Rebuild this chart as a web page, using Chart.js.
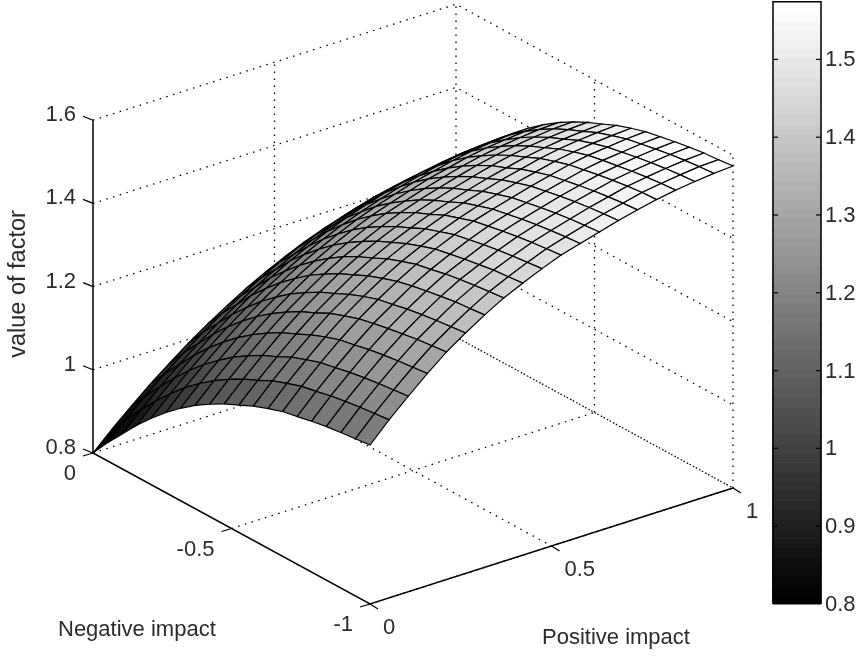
<!DOCTYPE html>
<html>
<head>
<meta charset="utf-8">
<title>value of factor</title>
<style>
  html, body { margin: 0; padding: 0; background: #fff; }
  canvas { display: block; }
</style>
<script src="https://cdn.jsdelivr.net/npm/chart.js@4"></script>
</head>
<body>
<canvas id="chart" width="856" height="656"></canvas>
<script>
// grid of the surface
const negativeImpact = [0, -0.0526, -0.1053, -0.1579, -0.2105, -0.2632, -0.3158, -0.3684, -0.4211, -0.4737, -0.5263, -0.5789, -0.6316, -0.6842, -0.7368, -0.7895, -0.8421, -0.8947, -0.9474, -1];
const positiveImpact = [0, 0.0526, 0.1053, 0.1579, 0.2105, 0.2632, 0.3158, 0.3684, 0.4211, 0.4737, 0.5263, 0.5789, 0.6316, 0.6842, 0.7368, 0.7895, 0.8421, 0.8947, 0.9474, 1];

// one row per negativeImpact value, one column per positiveImpact value
const factorValues = [
  [0.800, 0.843, 0.883, 0.922, 0.957, 0.991, 1.022, 1.051, 1.078, 1.102, 1.124, 1.144, 1.161, 1.176, 1.189, 1.199, 1.208, 1.213, 1.217, 1.218],
  [0.844, 0.887, 0.928, 0.966, 1.002, 1.036, 1.067, 1.095, 1.121, 1.145, 1.167, 1.185, 1.202, 1.217, 1.230, 1.240, 1.248, 1.254, 1.258, 1.259],
  [0.884, 0.928, 0.969, 1.007, 1.043, 1.076, 1.107, 1.135, 1.161, 1.184, 1.205, 1.223, 1.240, 1.254, 1.266, 1.277, 1.285, 1.291, 1.294, 1.296],
  [0.924, 0.968, 1.009, 1.048, 1.084, 1.117, 1.148, 1.176, 1.201, 1.223, 1.244, 1.262, 1.278, 1.292, 1.304, 1.314, 1.322, 1.328, 1.332, 1.334],
  [0.960, 1.004, 1.046, 1.085, 1.121, 1.153, 1.184, 1.211, 1.236, 1.258, 1.278, 1.295, 1.311, 1.325, 1.337, 1.347, 1.355, 1.361, 1.365, 1.367],
  [0.993, 1.038, 1.079, 1.118, 1.154, 1.187, 1.217, 1.244, 1.268, 1.290, 1.310, 1.327, 1.342, 1.356, 1.367, 1.378, 1.386, 1.392, 1.396, 1.398],
  [1.022, 1.067, 1.108, 1.148, 1.184, 1.216, 1.246, 1.273, 1.297, 1.319, 1.338, 1.354, 1.369, 1.383, 1.394, 1.405, 1.413, 1.418, 1.423, 1.425],
  [1.048, 1.093, 1.135, 1.174, 1.210, 1.243, 1.273, 1.299, 1.322, 1.344, 1.363, 1.378, 1.393, 1.406, 1.418, 1.428, 1.436, 1.442, 1.447, 1.449],
  [1.070, 1.115, 1.157, 1.197, 1.233, 1.265, 1.295, 1.322, 1.344, 1.365, 1.384, 1.400, 1.414, 1.427, 1.439, 1.449, 1.457, 1.463, 1.468, 1.470],
  [1.090, 1.135, 1.177, 1.217, 1.253, 1.285, 1.315, 1.341, 1.364, 1.384, 1.403, 1.418, 1.432, 1.445, 1.457, 1.467, 1.475, 1.481, 1.485, 1.488],
  [1.106, 1.151, 1.193, 1.233, 1.269, 1.301, 1.331, 1.357, 1.380, 1.400, 1.418, 1.433, 1.447, 1.460, 1.471, 1.482, 1.490, 1.496, 1.500, 1.503],
  [1.123, 1.169, 1.211, 1.250, 1.287, 1.318, 1.348, 1.374, 1.396, 1.417, 1.435, 1.450, 1.463, 1.476, 1.487, 1.498, 1.506, 1.512, 1.516, 1.519],
  [1.136, 1.182, 1.224, 1.264, 1.300, 1.332, 1.361, 1.387, 1.409, 1.429, 1.447, 1.462, 1.475, 1.488, 1.499, 1.510, 1.518, 1.524, 1.528, 1.531],
  [1.148, 1.194, 1.236, 1.276, 1.312, 1.344, 1.373, 1.399, 1.421, 1.441, 1.459, 1.473, 1.486, 1.499, 1.510, 1.521, 1.529, 1.534, 1.539, 1.542],
  [1.155, 1.201, 1.243, 1.283, 1.320, 1.351, 1.381, 1.406, 1.428, 1.448, 1.466, 1.480, 1.493, 1.506, 1.517, 1.528, 1.536, 1.541, 1.546, 1.549],
  [1.163, 1.209, 1.251, 1.291, 1.327, 1.359, 1.388, 1.414, 1.435, 1.455, 1.473, 1.487, 1.500, 1.513, 1.524, 1.535, 1.542, 1.548, 1.553, 1.556],
  [1.169, 1.215, 1.257, 1.297, 1.333, 1.365, 1.394, 1.420, 1.441, 1.461, 1.479, 1.493, 1.506, 1.519, 1.530, 1.541, 1.548, 1.554, 1.559, 1.562],
  [1.174, 1.220, 1.262, 1.302, 1.339, 1.370, 1.400, 1.425, 1.447, 1.466, 1.484, 1.498, 1.511, 1.524, 1.535, 1.546, 1.553, 1.559, 1.564, 1.567],
  [1.178, 1.224, 1.266, 1.306, 1.343, 1.374, 1.403, 1.429, 1.450, 1.470, 1.488, 1.502, 1.515, 1.528, 1.539, 1.550, 1.557, 1.563, 1.568, 1.570],
  [1.182, 1.228, 1.270, 1.310, 1.347, 1.378, 1.407, 1.433, 1.454, 1.474, 1.492, 1.505, 1.518, 1.531, 1.542, 1.552, 1.560, 1.566, 1.571, 1.574],
];

const factorTicks = [0.8, 1, 1.2, 1.4, 1.6];
const factorTickLabels = ["0.8", "1", "1.2", "1.4", "1.6"];
const negativeTicks = [0, -0.5, -1];
const negativeTickLabels = ["0", "-0.5", "-1"];
const positiveTicks = [0, 0.5, 1];
const positiveTickLabels = ["0", "0.5", "1"];
const colorbarTicks = [0.8, 0.9, 1, 1.1, 1.2, 1.3, 1.4, 1.5];
const colorbarTickLabels = ["0.8", "0.9", "1", "1.1", "1.2", "1.3", "1.4", "1.5"];
const colorMin = 0.8;
const colorMax = 1.574;
const colorLevels = 64;

// 3d box to canvas pixels, the x and y scales below run in pixels
function project(neg, pos, z) {
  return {
    x: 93 - 277 * neg + 363 * pos,
    y: 453 - 151 * neg - 116 * pos - 416 * (z - 0.8),
  };
}

function colorbarY(v) {
  return 604 - 778 * (v - colorMin);
}

function grayFor(v) {
  const t = Math.min(1, Math.max(0, (v - colorMin) / (colorMax - colorMin)));
  const level = Math.min(colorLevels - 1, Math.floor(t * colorLevels));
  const g = Math.round((level / (colorLevels - 1)) * 255);
  return `rgb(${g},${g},${g})`;
}

function lineSet(points, width, dash) {
  return {
    data: points,
    borderColor: "#000",
    borderWidth: width,
    borderDash: dash || [],
    fill: false,
    pointRadius: 0,
    tension: 0,
  };
}

function quadSet(points, color, edge, width) {
  return {
    data: points,
    borderColor: edge,
    backgroundColor: color,
    borderWidth: width,
    fill: "shape",
    pointRadius: 0,
    tension: 0,
  };
}

const dots = [1.5, 5.5];
const bottomFirst = [];

// dotted walls and floor
factorTicks.forEach((z) => {
  bottomFirst.push(lineSet([project(0, 0, z), project(0, 1, z), project(-1, 1, z)], 1.3, dots));
});
positiveTicks.slice(1).forEach((p) => {
  bottomFirst.push(lineSet([project(0, p, 0.8), project(0, p, 1.6)], 1.3, dots));
  bottomFirst.push(lineSet([project(0, p, 0.8), project(-1, p, 0.8)], 1.3, dots));
});
negativeTicks.slice(1).forEach((n) => {
  bottomFirst.push(lineSet([project(n, 1, 0.8), project(n, 1, 1.6)], 1.3, dots));
  bottomFirst.push(lineSet([project(n, 0, 0.8), project(n, 1, 0.8)], 1.3, dots));
});

// solid axes and tick marks
bottomFirst.push(lineSet([project(0, 0, 1.6), project(0, 0, 0.8), project(-1, 0, 0.8), project(-1, 1, 0.8)], 1.5));
factorTicks.forEach((z) => {
  const p = project(0, 0, z);
  bottomFirst.push(lineSet([p, { x: p.x - 10, y: p.y - 4 }], 1.2));
});
negativeTicks.forEach((n) => {
  const p = project(n, 0, 0.8);
  bottomFirst.push(lineSet([p, { x: p.x - 10, y: p.y + 3 }], 1.2));
});
positiveTicks.forEach((v) => {
  const p = project(-1, v, 0.8);
  bottomFirst.push(lineSet([p, { x: p.x + 8, y: p.y + 5 }], 1.2));
});

// surface, far corner first so the near cells paint over it
for (let i = 0; i < negativeImpact.length - 1; i++) {
  for (let j = positiveImpact.length - 2; j >= 0; j--) {
    const n0 = negativeImpact[i], n1 = negativeImpact[i + 1];
    const p0 = positiveImpact[j], p1 = positiveImpact[j + 1];
    const a = project(n0, p0, factorValues[i][j]);
    bottomFirst.push(quadSet([
      a,
      project(n0, p1, factorValues[i][j + 1]),
      project(n1, p1, factorValues[i + 1][j + 1]),
      project(n1, p0, factorValues[i + 1][j]),
      a,
    ], grayFor(factorValues[i][j]), "#000", 1.2));
  }
}

// colorbar
for (let k = 0; k < colorLevels; k++) {
  const v0 = colorMin + (k / colorLevels) * (colorMax - colorMin);
  const v1 = colorMin + ((k + 1) / colorLevels) * (colorMax - colorMin);
  const gray = grayFor((v0 + v1) / 2);
  bottomFirst.push(quadSet([
    { x: 773, y: colorbarY(v0) },
    { x: 821, y: colorbarY(v0) },
    { x: 821, y: colorbarY(v1) },
    { x: 773, y: colorbarY(v1) },
    { x: 773, y: colorbarY(v0) },
  ], gray, gray, 1));
}
bottomFirst.push(lineSet([
  { x: 773, y: colorbarY(colorMin) },
  { x: 773, y: colorbarY(colorMax) },
  { x: 821, y: colorbarY(colorMax) },
  { x: 821, y: colorbarY(colorMin) },
], 1.5));
colorbarTicks.slice(1).forEach((v) => {
  bottomFirst.push(lineSet([{ x: 773, y: colorbarY(v) }, { x: 778, y: colorbarY(v) }], 1.2));
  bottomFirst.push(lineSet([{ x: 816, y: colorbarY(v) }, { x: 821, y: colorbarY(v) }], 1.2));
});

const textPlugin = {
  id: "plotText",
  afterDraw(chart) {
    const { ctx, scales } = chart;
    const sx = (p) => scales.x.getPixelForValue(p.x);
    const sy = (p) => scales.y.getPixelForValue(p.y);
    ctx.save();
    ctx.fillStyle = "#2b2b2b";
    ctx.textBaseline = "middle";
    ctx.font = "22px 'Liberation Sans'";

    ctx.textAlign = "right";
    factorTicks.forEach((z, i) => {
      const p = project(0, 0, z);
      ctx.fillText(factorTickLabels[i], sx(p) - 17, sy(p) - 5);
    });
    negativeTicks.forEach((n, i) => {
      const p = project(n, 0, 0.8);
      ctx.fillText(negativeTickLabels[i], sx(p) - 17, sy(p) + 21);
    });

    ctx.textAlign = "left";
    positiveTicks.forEach((v, i) => {
      const p = project(-1, v, 0.8);
      ctx.fillText(positiveTickLabels[i], sx(p) + 13, sy(p) + 24);
    });
    colorbarTicks.forEach((v, i) => {
      ctx.fillText(colorbarTickLabels[i], 825, colorbarY(v) + 1);
    });

    ctx.fillText("Negative impact", 58, 630);
    ctx.fillText("Positive impact", 542, 638);

    ctx.font = "23.5px 'Liberation Sans'";
    ctx.translate(19, 284);
    ctx.rotate(-Math.PI / 2);
    ctx.textAlign = "center";
    ctx.fillText("value of factor", 0, 0);
    ctx.restore();
  },
};

new Chart(document.getElementById("chart").getContext("2d"), {
  type: "line",
  data: { datasets: bottomFirst.reverse() },
  options: {
    responsive: false,
    animation: false,
    layout: { padding: 0 },
    plugins: { legend: { display: false }, tooltip: { enabled: false } },
    scales: {
      x: { type: "linear", min: 0, max: 856, display: false },
      y: { type: "linear", min: 0, max: 656, reverse: true, display: false },
    },
  },
  plugins: [textPlugin],
});
</script>
</body>
</html>
